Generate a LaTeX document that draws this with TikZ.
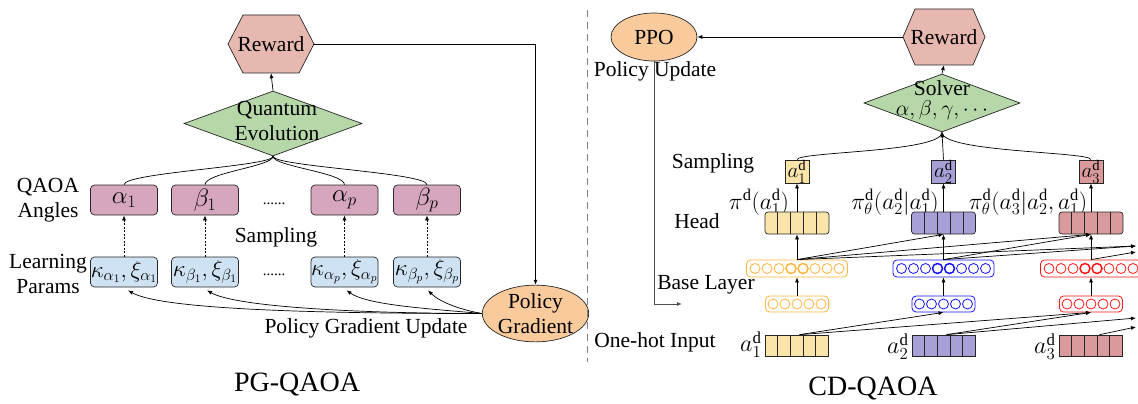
\RequirePackage{fix-cm}
\documentclass[tikz,border=0pt]{standalone}
\usepackage{fontspec}
\setmainfont{Liberation Serif}
\usetikzlibrary{arrows.meta,shapes.geometric,calc}
\definecolor{rewfill}{RGB}{230,184,175}
\definecolor{qefill}{RGB}{182,215,168}
\definecolor{angfill}{RGB}{213,166,189}
\definecolor{parfill}{RGB}{207,226,243}
\definecolor{ellfill}{RGB}{249,203,156}
\definecolor{yel}{RGB}{249,229,170}
\definecolor{pur}{RGB}{166,160,214}
\definecolor{redc}{RGB}{218,154,156}
\definecolor{bor}{RGB}{255,180,60}
\definecolor{bblue}{RGB}{20,20,255}
\definecolor{bred}{RGB}{255,20,20}
\newcommand\drawhex[6]{%
  \filldraw[fill=#6,draw=black!85,line width=0.7pt]
    ({#1-#3},{#2}) -- ({#1-#3+#5},{#2+#4}) -- ({#1+#3-#5},{#2+#4})
    -- ({#1+#3},{#2}) -- ({#1+#3-#5},{#2-#4}) -- ({#1-#3+#5},{#2-#4}) -- cycle;}
\newcommand\cellsof[1]{\foreach \k in {1,2,3,4}{\draw[line width=0.6pt,draw=black!85] ($(#1.south west)!\k/5!(#1.south east)$) -- ($(#1.north west)!\k/5!(#1.north east)$);}}
\newcommand\circlesof[3]{\foreach \k in {1,...,#2}{\draw[draw=#3,line width=0.8pt] ($(#1.center)+({(\k-(#2+1)/2)*12},0)$) circle (5pt);}}
\newcommand\boldmid[2]{\foreach \k in {4,5}{\draw[draw=#2,line width=1.4pt] ($(#1.center)+({(\k-4.5)*12},0)$) circle (5pt);}}
\begin{document}
\begin{tikzpicture}[x=1pt,y=1pt,
  every node/.style={inner sep=0pt, font=\fontsize{21.5}{25}\selectfont},
  conn/.style={line width=0.7pt,-{Latex[length=5pt,width=4pt]}},
  plain/.style={line width=0.7pt},
  anglebox/.style={draw=black!85,line width=0.7pt,fill=angfill,rounded corners=4pt,minimum width=67pt,minimum height=30pt,font=\fontsize{25}{28}\selectfont},
  parambox/.style={draw=black!85,line width=0.7pt,fill=parfill,rounded corners=4pt,minimum width=67pt,minimum height=30pt,font=\fontsize{23}{26}\selectfont},
  dotsn/.style={font=\fontsize{15}{15}\selectfont},
  ellnode/.style={ellipse,draw=black!85,line width=0.7pt,fill=ellfill,align=center},
  dia/.style={diamond,draw=black!85,line width=0.7pt,fill=qefill},
  headbox/.style={draw=black!85,line width=0.7pt,rounded corners=3pt,minimum width=64pt,minimum height=22pt},
  hotbox/.style={draw=black!85,line width=0.7pt,minimum width=63pt,minimum height=21pt},
  abox/.style={draw=black!85,line width=0.7pt,minimum width=24pt,minimum height=23pt,font=\fontsize{21}{22}\selectfont},
  bigbase/.style={line width=0.8pt,rounded corners=4pt,minimum width=101pt,minimum height=17pt,fill=white},
  smallbase/.style={line width=0.8pt,rounded corners=4pt,minimum width=63pt,minimum height=16pt,fill=white},
  pilab/.style={font=\fontsize{23.5}{25}\selectfont},
  alab/.style={font=\fontsize{24}{25}\selectfont},
  title/.style={font=\fontsize{28}{30}\selectfont}]
\useasboundingbox (0,0) rectangle (1138,-404);

% ================= PG-QAOA =================
\drawhex{271}{-44}{43}{29}{15}{rewfill}
\node[minimum width=86pt,minimum height=58pt] (rew) at (271,-44) {Reward};
\node[dia,minimum width=178pt,minimum height=65pt,aspect=2.74] (qe) at (273,-123.5) {};
\node[align=center] (qet) at (277,-121) {Quantum\\Evolution};

\node[anglebox] (a1) at (124,-200) {$\alpha_1$};
\node[anglebox] (a2) at (205,-200) {$\beta_1$};
\node[anglebox] (a3) at (344.5,-200) {$\alpha_p$};
\node[anglebox] (a4) at (427,-200) {$\beta_p$};
\node[dotsn] (dt1) at (274,-204) {......};

\node[parambox] (p1) at (124,-272) {$\kappa_{\alpha_1},\xi_{\alpha_1}$};
\node[parambox] (p2) at (205,-272) {$\kappa_{\beta_1},\xi_{\beta_1}$};
\node[parambox] (p3) at (344.5,-272) {$\kappa_{\alpha_p},\xi_{\alpha_p}$};
\node[parambox] (p4) at (427,-272) {$\kappa_{\beta_p},\xi_{\beta_p}$};
\node[dotsn] (dt2) at (274,-275) {......};

\node (samp1) at (276,-237) {Sampling};
\node[align=center] (qaoaang) at (48,-200) {QAOA\\Angles};
\node[align=center] (learnp) at (48,-274) {Learning\\Params};
\node[ellnode,minimum width=99pt,minimum height=55pt] (pg) at (535.5,-313.5) {Policy\\Gradient};
\node (pgu) at (366,-328) {Policy Gradient Update};
\node[title] (pgt) at (297,-384) {PG-QAOA};

\draw[conn] (qe.north) -- (rew.south);
\draw[conn] (rew.east) -| (pg.north);
\foreach \b in {a1,a2,a3,a4}{\draw[plain] (qe.south) to[out=-90,in=90,out distance=10pt,in distance=12pt] (\b.north);}
\foreach \i in {1,2,3,4}{\draw[conn,dash pattern=on 2pt off 1.5pt] (p\i.north) -- (a\i.south);}
\draw[conn] (pg.west) to[out=180,in=-30,out distance=150pt,in distance=40pt] ([xshift=4pt,yshift=-3pt]p1.south);
\draw[conn] (pg.west) to[out=180,in=-30,out distance=110pt,in distance=35pt] ([xshift=2pt,yshift=-3pt]p2.south);
\draw[conn] (pg.west) to[out=175,in=-35,out distance=60pt,in distance=25pt] ([xshift=2pt,yshift=-3pt]p3.south);
\draw[conn] (pg.west) to[out=170,in=-45,out distance=25pt,in distance=15pt] ([xshift=1pt,yshift=-3pt]p4.south);

% separator
\draw[black!50,line width=0.6pt,dash pattern=on 7pt off 5pt] (587,-10) -- (587,-362);

% ================= CD-QAOA =================
\node[ellnode,minimum width=86pt,minimum height=48pt] (ppo) at (654,-37) {PPO};
\node (polup) at (655,-71) {Policy Update};
\drawhex{944}{-37}{41}{28}{12}{rewfill}
\node[minimum width=82pt,minimum height=56pt] (rew2) at (944,-37) {Reward};
\node[dia,minimum width=156pt,minimum height=58pt,aspect=2.7] (sol) at (942,-103) {};
\node[align=center] (solt) at (942,-100) {Solver\\[-5pt]$\alpha,\beta,\gamma,\cdots$};

\node (samp2) at (713,-163) {Sampling};
\node[abox,fill=yel] (as1) at (797,-171.5) {$a_1^{\mathrm{d}}$};
\node[abox,fill=pur] (as2) at (943.5,-171.5) {$a_2^{\mathrm{d}}$};
\node[abox,fill=redc] (as3) at (1091,-171.5) {$a_3^{\mathrm{d}}$};

\node[pilab] (pi1) at (759,-202) {$\pi^{\mathrm{d}}(a_1^{\mathrm{d}})$};
\node[pilab] (pi2) at (895,-202) {$\pi_\theta^{\mathrm{d}}(a_2^{\mathrm{d}}|a_1^{\mathrm{d}})$};
\node[pilab] (pi3) at (1028,-202) {$\pi_\theta^{\mathrm{d}}(a_3^{\mathrm{d}}|a_2^{\mathrm{d}},a_1^{\mathrm{d}})$};

\node[headbox,fill=yel] (h1) at (797,-223) {};
\node[headbox,fill=pur] (h2) at (943.5,-223) {};
\node[headbox,fill=redc] (h3) at (1091,-223) {};
\cellsof{h1}\cellsof{h2}\cellsof{h3}
\node (headt) at (697,-221) {Head};

\node[bigbase,draw=bor] (b1) at (797,-268.5) {};
\node[bigbase,draw=bblue] (b2) at (943.5,-268.5) {};
\node[bigbase,draw=bred] (b3) at (1091,-268.5) {};
\circlesof{b1}{8}{bor}\circlesof{b2}{8}{bblue}\circlesof{b3}{8}{bred}
\boldmid{b1}{bor}\boldmid{b2}{bblue}\boldmid{b3}{bred}
\node (basel) at (706,-285) {Base Layer};

\node[smallbase,draw=bor] (s1) at (797,-304) {};
\node[smallbase,draw=bblue] (s2) at (943.5,-304) {};
\node[smallbase,draw=bred] (s3) at (1091,-304) {};
\circlesof{s1}{5}{bor}\circlesof{s2}{5}{bblue}\circlesof{s3}{5}{bred}

\node[hotbox,fill=yel] (o1) at (796.5,-345.5) {};
\node[hotbox,fill=pur] (o2) at (943.5,-345.5) {};
\node[hotbox,fill=redc] (o3) at (1090.5,-345.5) {};
\cellsof{o1}\cellsof{o2}\cellsof{o3}
\node[alab,anchor=east] (ol1) at ([xshift=-3pt,yshift=1pt]o1.west) {$a_1^{\mathrm{d}}$};
\node[alab,anchor=east] (ol2) at ([xshift=-3pt,yshift=-1pt]o2.west) {$a_2^{\mathrm{d}}$};
\node[alab,anchor=east] (ol3) at ([xshift=-3pt,yshift=-1pt]o3.west) {$a_3^{\mathrm{d}}$};
\node (onehot) at (655,-342) {One-hot Input};
\node[title] (cdt) at (873,-388) {CD-QAOA};

% connectors
\draw[conn] (sol.north) -- (rew2.south);
\draw[conn] (rew2.west) -- (ppo.east);
\coordinate (pu) at (682,-304);
\draw[conn,draw=black!70,line width=1pt] (ppo.south) |- (pu);

\draw[conn] (as2.north) -- (sol.south);
\draw[plain] (as1.north) to[out=90,in=-90,out distance=8pt,in distance=20pt] (sol.south);
\draw[plain] (as3.north) to[out=90,in=-90,out distance=8pt,in distance=20pt] (sol.south);
\foreach \i in {1,2,3}{
  \draw[conn] (h\i.north) -- (as\i.south);
  \draw[conn] (b\i.north) -- (h\i.south);
  \draw[conn] (s\i.north) -- (b\i.south);
}
\coordinate (r1) at (1136,-318);
\coordinate (r2) at (1136,-327);
\coordinate (r3) at (1136,-246);
\coordinate (r4) at (1136,-252);
\draw[conn] (b1.north) -- (h2.south);
\draw[conn] (b1.north) -- (h3.south);
\draw[conn] (b1.north) -- (r3);
\draw[conn] (b2.north) -- (h3.south);
\draw[conn] (b2.north) -- (r3);
\draw[conn] (b3.north) -- (r4);
\draw[conn] ([xshift=3pt]o1.north) -- (s2.south);
\draw[conn] ([xshift=3pt]o1.north) -- (s3.south);
\draw[conn] ([xshift=3pt]o2.north) -- (s3.south);
\draw[conn] ([xshift=3pt]o2.north) -- (r1);
\draw[conn] ([xshift=9pt]o3.north) -- (r2);
\end{tikzpicture}
\end{document}
